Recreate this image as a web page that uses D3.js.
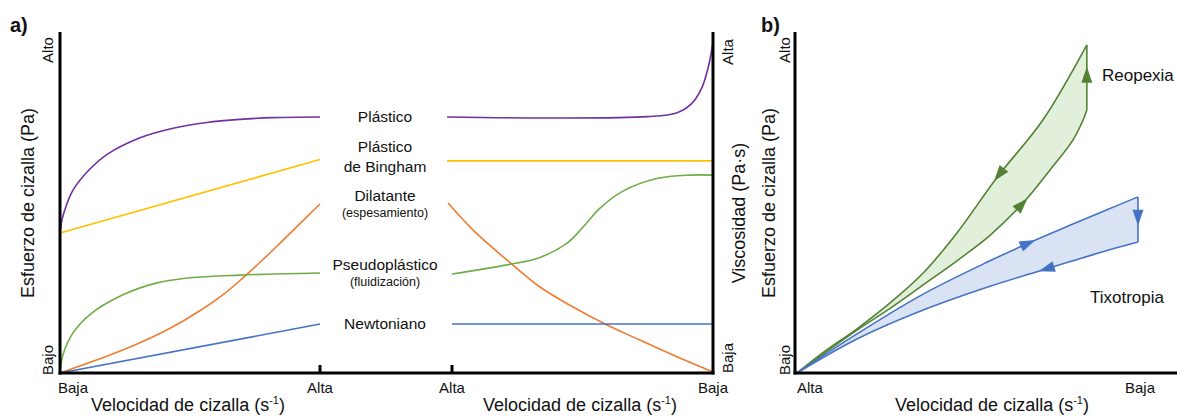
<!DOCTYPE html>
<html>
<head>
<meta charset="utf-8">
<script src="https://cdn.jsdelivr.net/npm/d3@7"></script>
<style>
  body { margin: 0; background: #fff; }
  svg text { font-family: "Liberation Sans", Arial, Helvetica, sans-serif; fill: #111; }
</style>
</head>
<body>
<svg id="chart" width="1177" height="416"></svg>
<script>
// a) esfuerzo vs velocidad  (x: 0 = Baja, 1 = Alta ; y: 0 = Bajo, 1 = Alto)
const plasticoEsf = [[0,0.412],[0.008,0.452],[0.023,0.49],[0.05,0.538],[0.115,0.6],[0.181,0.643],
  [0.308,0.692],[0.435,0.72],[0.565,0.737],[0.692,0.746],[0.82,0.751],[1,0.753]];
const binghamEsf = [[0,0.412],[1,0.628]];
const dilatanteEsf = [[0,0],[0.14,0.038],[0.281,0.08],[0.42,0.13],[0.538,0.183],[0.63,0.232],
  [0.704,0.28],[0.78,0.333],[0.858,0.391],[1,0.497]];
const pseudoEsf = [[0,0],[0.012,0.055],[0.05,0.118],[0.115,0.172],[0.242,0.23],[0.373,0.265],
  [0.5,0.28],[0.692,0.288],[1,0.294]];
const newtonEsf = [[0,0],[1,0.144]];

// a) viscosidad vs velocidad (x: 1 = Alta ... 0 = Baja)
const plasticoVisc = [[1.019,0.753],[0.625,0.75],[0.25,0.754],[0.14,0.765],[0.085,0.79],[0.045,0.835],[0.018,0.9],[0,0.971]];
const binghamVisc = [[1.019,0.624],[0,0.624]];
const dilatanteVisc = [[1.015,0.5],[0.92,0.421],[0.789,0.332],[0.663,0.253],[0.536,0.194],[0.406,0.141],
  [0.28,0.097],[0.153,0.053],[0,0.003]];
const pseudoVisc = [[1,0.291],[0.789,0.318],[0.663,0.34],[0.559,0.382],[0.498,0.429],[0.433,0.485],
  [0.345,0.535],[0.215,0.572],[0.088,0.582],[0,0.582]];
const newtonVisc = [[1,0.144],[0,0.144]];

const fluidNames = [["Plástico"], ["Plástico", "de Bingham"], ["Dilatante"], ["Pseudoplástico"], ["Newtoniano"]];
const fluidNotes = [null, null, "(espesamiento)", "(fluidización)", null];
const fluidColors = ["#7030a0", "#ffc000", "#ed7d31", "#70ad47", "#4472c4"];

// b) ciclos de histeresis (x: 0 = Alta, 1 = Baja)
const reoSubida = [[0,0],[0.176,0.126],[0.273,0.19],[0.37,0.259],[0.469,0.33],[0.566,0.405],[0.663,0.5],
  [0.742,0.597],[0.809,0.685],[0.839,0.744],[0.85,0.774]];
const reoVertical = [[0.85,0.774],[0.85,0.965]];
const reoBajada = [[0.85,0.965],[0.721,0.744],[0.587,0.576],[0.469,0.412],[0.37,0.294],[0.273,0.206],
  [0.176,0.13],[0.076,0.06],[0,0]];
const tixSubida = [[0,0],[0.176,0.115],[0.37,0.232],[0.566,0.33],[0.683,0.384],[0.809,0.438],[0.909,0.48],[1,0.518]];
const tixVertical = [[1,0.518],[1,0.385]];
const tixBajada = [[1,0.385],[0.909,0.36],[0.809,0.33],[0.721,0.303],[0.566,0.255],[0.37,0.185],[0.176,0.1],[0,0]];

const stressTicks = ["Bajo", "Alto"];
const viscTicks = ["Baja", "Alta"];
const rateTicksA = ["Baja", "Alta"];
const rateTicksV = ["Alta", "Baja"];
const rateTicksB = ["Alta", "Baja"];

const svg = d3.select("#chart");

const y = d3.scaleLinear().domain([0, 1]).range([373, 33]);
const xA = d3.scaleLinear().domain([0, 1]).range([60, 320]);
const xV = d3.scaleLinear().domain([1, 0]).range([452, 713]);
const xB = d3.scaleLinear().domain([0, 1]).range([797, 1138]);

function curveLine(xs) {
  return d3.line().x(d => xs(d[0])).y(d => y(d[1])).curve(d3.curveCatmullRom.alpha(0.5));
}

// curves panel a
const esf = [plasticoEsf, binghamEsf, dilatanteEsf, pseudoEsf, newtonEsf];
const visc = [plasticoVisc, binghamVisc, dilatanteVisc, pseudoVisc, newtonVisc];

esf.forEach((pts, i) => {
  svg.append("path").attr("d", curveLine(xA)(pts))
    .attr("fill", "none").attr("stroke", fluidColors[i]).attr("stroke-width", 1.6);
});
visc.forEach((pts, i) => {
  svg.append("path").attr("d", curveLine(xV)(pts))
    .attr("fill", "none").attr("stroke", fluidColors[i]).attr("stroke-width", 1.6);
});

// fluid labels between the two graphs
const labelX = (xA(1) + xV(1)) / 2 - 1;
fluidNames.forEach((lines, i) => {
  const yEnd = y(esf[i][esf[i].length - 1][1]);
  const rows = lines.map(t => ({ t, size: 15.5 }));
  if (fluidNotes[i]) rows.push({ t: fluidNotes[i], size: 12.5 });
  const step = rows.length > 1 && !fluidNotes[i] ? 20 : 17;
  const shift = rows.length > 1 && !fluidNotes[i] ? -3 : 0;
  rows.forEach((r, k) => {
    svg.append("text")
      .attr("x", labelX)
      .attr("y", yEnd + shift + (k - (rows.length - 1) / 2) * step)
      .attr("dy", "0.35em")
      .attr("text-anchor", "middle")
      .style("font-size", r.size + "px")
      .text(r.t);
  });
});

// panel b loops
function loopPath(segs, xs) {
  const lin = d3.line().x(d => xs(d[0])).y(d => y(d[1]));
  const cur = curveLine(xs);
  let d = "";
  segs.forEach((s, i) => {
    let part = (s.length === 2 ? lin(s) : cur(s));
    if (i > 0) part = part.replace(/^M/, "L");
    d += part;
  });
  return d + "Z";
}

function arrowAt(pathNode, frac, color) {
  const L = pathNode.getTotalLength();
  const p = pathNode.getPointAtLength(L * frac);
  const a = pathNode.getPointAtLength(Math.max(0, L * frac - 1));
  const b = pathNode.getPointAtLength(Math.min(L, L * frac + 1));
  const ang = Math.atan2(b.y - a.y, b.x - a.x) * 180 / Math.PI;
  svg.append("path")
    .attr("d", "M8,0 L-8,-5.5 L-8,5.5 Z")
    .attr("fill", color)
    .attr("transform", `translate(${p.x},${p.y}) rotate(${ang})`);
}

const loops = [
  { segs: [reoSubida, reoVertical, reoBajada], fill: "#e2efda", stroke: "#548235", arrows: [0.71, 0.54, 0.355] },
  { segs: [tixSubida, tixVertical, tixBajada], fill: "#dae3f3", stroke: "#4472c4", arrows: [0.69, 0.46, 0.26] }
];

loops.forEach(lp => {
  svg.append("path").attr("d", loopPath(lp.segs, xB))
    .attr("fill", lp.fill).attr("stroke", "none");
});
loops.forEach(lp => {
  lp.segs.forEach((s, i) => {
    const gen = s.length === 2 ? d3.line().x(d => xB(d[0])).y(d => y(d[1])) : curveLine(xB);
    const p = svg.append("path").attr("d", gen(s))
      .attr("fill", "none").attr("stroke", lp.stroke).attr("stroke-width", 1.6);
    arrowAt(p.node(), lp.arrows[i], lp.stroke);
  });
});

svg.append("text").attr("x", 1102).attr("y", 75).attr("dy", "0.35em")
  .style("font-size", "17px").text("Reopexia");
svg.append("text").attr("x", 1090).attr("y", 297).attr("dy", "0.35em")
  .style("font-size", "17px").text("Tixotropia");

// axes
const axis = svg.append("g").attr("stroke", "#000").attr("stroke-width", 3);
axis.append("line").attr("x1", xA(0)).attr("x2", xA(0)).attr("y1", y(1) - 1).attr("y2", y(0) + 1.5);
axis.append("line").attr("x1", xA(0) - 1.5).attr("x2", xV(0) + 1.5).attr("y1", y(0)).attr("y2", y(0));
axis.append("line").attr("x1", xV(0)).attr("x2", xV(0)).attr("y1", y(1) - 1).attr("y2", y(0) + 1.5);
axis.append("line").attr("x1", xA(1)).attr("x2", xA(1)).attr("y1", y(0) - 8).attr("y2", y(0));
axis.append("line").attr("x1", xV(1)).attr("x2", xV(1)).attr("y1", y(0) - 8).attr("y2", y(0));
axis.append("line").attr("x1", xB(0) - 2).attr("x2", xB(0) - 2).attr("y1", y(1) - 1).attr("y2", y(0) + 1.5);
axis.append("line").attr("x1", xB(0) - 3.5).attr("x2", 1177).attr("y1", y(0)).attr("y2", y(0));

function rotLabel(x, yy, txt, size, anchor) {
  svg.append("text")
    .attr("transform", `translate(${x},${yy}) rotate(-90)`)
    .attr("text-anchor", anchor || "middle")
    .style("font-size", size + "px")
    .text(txt);
}

// vertical tick words
[0, 1].forEach(v => {
  rotLabel(53, y(v) + (v === 0 ? -13 : 17), stressTicks[v], 15);
  rotLabel(733, y(v) + (v === 0 ? -15 : 19), viscTicks[v], 15);
  rotLabel(790, y(v) + (v === 0 ? -13 : 17), stressTicks[v], 15);
});

// horizontal tick words
function hLabel(x, txt, anchor) {
  svg.append("text").attr("x", x).attr("y", 393)
    .attr("text-anchor", anchor).style("font-size", "15px").text(txt);
}
hLabel(xA(0) - 2, rateTicksA[0], "start");
hLabel(xA(1), rateTicksA[1], "middle");
hLabel(xV(1), rateTicksV[0], "middle");
hLabel(xV(0), rateTicksV[1], "middle");
hLabel(xB(0), rateTicksB[0], "start");
hLabel(xB(1) + 2, rateTicksB[1], "middle");

// axis titles
rotLabel(34, 203, "Esfuerzo de cizalla (Pa)", 18);
rotLabel(745, 213, "Viscosidad (Pa·s)", 18);
rotLabel(775, 203, "Esfuerzo de cizalla (Pa)", 18);

function rateTitle(cx) {
  const t = svg.append("text").attr("x", cx).attr("y", 411)
    .attr("text-anchor", "middle").style("font-size", "18px");
  t.append("tspan").text("Velocidad de cizalla (s");
  t.append("tspan").attr("dy", -7).style("font-size", "11px").text("-1");
  t.append("tspan").attr("dy", 7).text(")");
}
rateTitle(188);
rateTitle(580);
rateTitle(992);

// panel letters
svg.append("text").attr("x", 10).attr("y", 32).style("font-size", "20px").style("font-weight", "bold").text("a)");
svg.append("text").attr("x", 761).attr("y", 32).style("font-size", "20px").style("font-weight", "bold").text("b)");
</script>
</body>
</html>
